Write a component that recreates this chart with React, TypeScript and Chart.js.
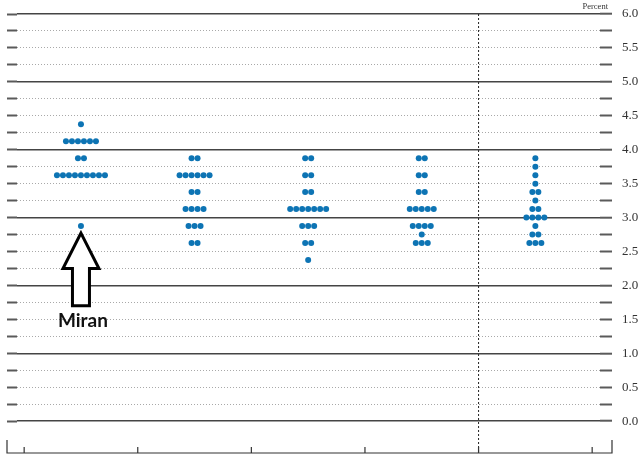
import { useEffect, useRef } from 'react'
import { Chart, registerables } from 'chart.js'

Chart.register(...registerables)

// projection columns (not labelled in the cropped picture)
const columns = ['2025', '2026', '2027', '2028', 'Longer run']

// midpoints of target ranges, in 1/8 point steps
const levels = [4.375, 4.25, 4.125, 4.0, 3.875, 3.75, 3.625, 3.5, 3.375, 3.25, 3.125, 3.0, 2.875, 2.75, 2.625, 2.5, 2.375]

// number of participants at each level
const dots2025 = [1, 0, 6, 0, 2, 0, 9, 0, 0, 0, 0, 0, 1, 0, 0, 0, 0]
const dots2026 = [0, 0, 0, 0, 2, 0, 6, 0, 2, 0, 4, 0, 3, 0, 2, 0, 0]
const dots2027 = [0, 0, 0, 0, 2, 0, 2, 0, 2, 0, 7, 0, 3, 0, 2, 0, 1]
const dots2028 = [0, 0, 0, 0, 2, 0, 2, 0, 2, 0, 5, 0, 4, 1, 3, 0, 0]
const dotsLongerRun = [0, 0, 0, 0, 1, 1, 1, 1, 2, 1, 2, 4, 1, 2, 3, 0, 0]

const yTicks = [0, 0.25, 0.5, 0.75, 1, 1.25, 1.5, 1.75, 2, 2.25, 2.5, 2.75, 3, 3.25, 3.5, 3.75, 4, 4.25, 4.5, 4.75, 5, 5.25, 5.5, 5.75, 6]
const columnEdges = [-0.5, 0.5, 1.5, 2.5, 3.5, 4.5]

const DOT_COLOR = '#0d74b4'
const DOT_STEP = 0.0528 // horizontal gap between dots, in column units

function buildDots(counts: number[], col: number) {
  const pts: { x: number; y: number }[] = []
  counts.forEach((n, i) => {
    for (let k = 0; k < n; k++) {
      pts.push({ x: col + (k - (n - 1) / 2) * DOT_STEP, y: levels[i] })
    }
  })
  return pts
}

const framePlugin = {
  id: 'dotFrame',
  beforeDatasetsDraw(chart: any) {
    const { ctx, chartArea, scales } = chart
    const x = scales.x
    const left = scales.yl.left
    const right = chartArea.right + 12
    const bottom = chartArea.bottom

    ctx.save()
    // divider before the longer run column
    const xd = x.getPixelForValue(3.5)
    ctx.strokeStyle = '#222'
    ctx.lineWidth = 1
    ctx.setLineDash([2, 2])
    ctx.beginPath()
    ctx.moveTo(xd, chartArea.top)
    ctx.lineTo(xd, bottom)
    ctx.stroke()
    ctx.setLineDash([])

    // bottom axis with inner ticks
    ctx.strokeStyle = '#333'
    ctx.lineWidth = 1.2
    ctx.beginPath()
    ctx.moveTo(left, bottom - 13)
    ctx.lineTo(left, bottom)
    ctx.lineTo(right, bottom)
    ctx.lineTo(right, bottom - 13)
    columnEdges.forEach(v => {
      const px = x.getPixelForValue(v)
      ctx.moveTo(px, bottom)
      ctx.lineTo(px, bottom - 6)
    })
    ctx.stroke()

    // unit label
    ctx.fillStyle = '#333'
    ctx.font = '8.5px "Liberation Serif", serif'
    ctx.textAlign = 'right'
    ctx.textBaseline = 'middle'
    ctx.fillText('Percent', chartArea.right + 8, chartArea.top - 7)
    ctx.restore()
  },
  afterDatasetsDraw(chart: any) {
    const { ctx, scales } = chart
    const cx = scales.x.getPixelForValue(0)
    const y = scales.y
    const tip = y.getPixelForValue(2.77)
    const base = y.getPixelForValue(2.25)
    const end = y.getPixelForValue(1.7)

    ctx.save()
    ctx.beginPath()
    ctx.moveTo(cx, tip)
    ctx.lineTo(cx + 18, base)
    ctx.lineTo(cx + 8.5, base)
    ctx.lineTo(cx + 8.5, end)
    ctx.lineTo(cx - 8.5, end)
    ctx.lineTo(cx - 8.5, base)
    ctx.lineTo(cx - 18, base)
    ctx.closePath()
    ctx.fillStyle = '#fff'
    ctx.fill()
    ctx.strokeStyle = '#000'
    ctx.lineWidth = 3
    ctx.lineJoin = 'miter'
    ctx.stroke()

    ctx.fillStyle = '#111'
    ctx.font = 'bold 19px Lato, "Open Sans", sans-serif'
    ctx.textAlign = 'center'
    ctx.textBaseline = 'alphabetic'
    ctx.fillText('Miran', cx + 2, y.getPixelForValue(1.385))
    ctx.restore()
  },
}

const isWhole = (v: number) => Math.abs(v - Math.round(v)) < 1e-6

export default function App() {
  const chartRef = useRef<HTMLCanvasElement>(null)
  const chartInstance = useRef<Chart | null>(null)

  useEffect(() => {
    if (!chartRef.current) return
    if (chartInstance.current) chartInstance.current.destroy()

    const series = [dots2025, dots2026, dots2027, dots2028, dotsLongerRun]

    chartInstance.current = new Chart(chartRef.current, {
      type: 'scatter',
      data: {
        datasets: series.map((counts, i) => ({
          label: columns[i],
          data: buildDots(counts, i),
          backgroundColor: DOT_COLOR,
          borderWidth: 0,
          pointRadius: 3,
          pointHoverRadius: 3,
        })),
      },
      options: {
        animation: false,
        responsive: true,
        maintainAspectRatio: false,
        layout: { padding: { left: 7, right: 0, top: 14, bottom: 15 } },
        plugins: {
          legend: { display: false },
          tooltip: { enabled: false },
        },
        scales: {
          x: { type: 'linear', min: -0.563, max: 4.569, display: false },
          y: {
            type: 'linear',
            position: 'right',
            min: -0.47,
            max: 6,
            afterBuildTicks: (s: any) => {
              s.ticks = yTicks.map(v => ({ value: v }))
            },
            afterFit: (s: any) => {
              s.width = 40
              s.paddingTop = 0
              s.paddingBottom = 0
            },
            grid: {
              color: (c: any) => (isWhole(c.tick?.value) ? '#444' : '#a9a9a9'),
              lineWidth: (c: any) => (isWhole(c.tick?.value) ? 1.4 : 1),
              tickLength: 12,
              tickColor: '#5a5a5a',
              tickWidth: 2,
            },
            border: {
              display: false,
              dash: (c: any) => (isWhole(c.tick?.value) ? [] : [1, 2]),
            },
            ticks: {
              autoSkip: false,
              padding: 10,
              color: '#333',
              font: { family: '"Liberation Serif", serif', size: 13 },
              callback: (v: any) => (Math.abs((v * 2) % 1) < 1e-6 ? Number(v).toFixed(1) : ''),
            },
          },
          yl: {
            type: 'linear',
            axis: 'y',
            position: 'left',
            min: -0.47,
            max: 6,
            afterBuildTicks: (s: any) => {
              s.ticks = yTicks.map(v => ({ value: v }))
            },
            afterFit: (s: any) => {
              s.width = 10
              s.paddingTop = 0
              s.paddingBottom = 0
            },
            grid: {
              drawOnChartArea: false,
              tickLength: 10,
              tickColor: '#5a5a5a',
              tickWidth: 2,
            },
            border: { display: false },
            ticks: { display: false, autoSkip: false },
          },
        },
      } as any,
      plugins: [framePlugin],
    })

    return () => {
      if (chartInstance.current) {
        chartInstance.current.destroy()
        chartInstance.current = null
      }
    }
  }, [])

  return (
    <div style={{ position: 'fixed', left: 0, top: 0, width: 640, height: 468, background: '#fff' }}>
      <canvas ref={chartRef} />
    </div>
  )
}
